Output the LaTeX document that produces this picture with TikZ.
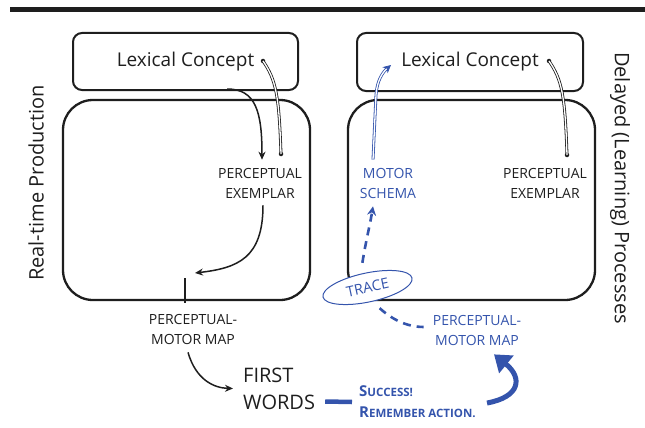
\documentclass[tikz,border=0pt]{standalone}
\usepackage{fontspec}
\setmainfont{Open Sans}
\usetikzlibrary{arrows.meta,shapes.geometric}
\definecolor{ink}{HTML}{1E1E1E}
\definecolor{bl}{RGB}{52,84,172}
\begin{document}
\begin{tikzpicture}[x=1pt,y=1pt,
  box/.style={draw=ink, line width=2pt, rounded corners=9pt},
  bigbox/.style={draw=ink, line width=2.3pt, rounded corners=30pt},
  lbl/.style={text=ink, font=\fontsize{14}{20}\selectfont, align=center, inner sep=0pt},
  blbl/.style={lbl, text=bl},
  dotn/.style={circle, fill=ink, inner sep=0pt, minimum size=4.5pt},
  dbl/.style={draw=ink, line width=0.8pt, double=white, double distance=1.3pt},
  bdbl/.style={draw=bl, line width=0.8pt, double=white, double distance=1.3pt},
  arr/.style={draw=ink, line width=1.5pt, -{Stealth[length=8pt,width=7pt]}},
  barr/.style={draw=bl, line width=2.6pt, dash pattern=on 8pt off 6pt, -{Stealth[length=9pt,width=9pt]}},
  side/.style={text=ink, font=\fontsize{20}{24}\selectfont, inner sep=0pt},
]
\useasboundingbox (0,0) rectangle (645,-428);
\fill[ink] (10,-7) rectangle (645,-12);

% boxes
\node[box, minimum width=225pt, minimum height=57pt, font=\fontsize{19}{22}\selectfont, text=ink] (lcL) at (185.5,-61.5) {Lexical Concept};
\node[box, minimum width=226pt, minimum height=58pt, font=\fontsize{19}{22}\selectfont, text=ink] (lcR) at (470,-62) {Lexical Concept};
\node[bigbox, minimum width=247pt, minimum height=200pt] (bigL) at (186.5,-200) {};
\node[bigbox, minimum width=247pt, minimum height=200pt] (bigR) at (471.5,-200) {};

% side labels
\node[side, rotate=90] (rtp) at (36,-183) {Real-time Production};
\node[side, rotate=-90] (dlp) at (620,-188) {Delayed (Learning) Processes};

% text nodes
\node[lbl] (peL) at (260,-183) {PERCEPTUAL\\EXEMPLAR};
\node[lbl] (pmL) at (193,-329) {PERCEPTUAL-\\MOTOR MAP};
\node[lbl, align=left, anchor=west, font=\fontsize{20}{27}\selectfont] (fw) at (243,-388.5) {FIRST\\WORDS};
\node[lbl, align=left, anchor=west, text=bl, font=\bfseries\fontsize{15}{21}\selectfont] (succ) at (359,-402)
  {S{\fontsize{11.5}{21}\selectfont UCCESS!}\\R{\fontsize{11.5}{21}\selectfont EMEMBER ACTION.}};
\node[blbl] (pmR) at (477,-330) {PERCEPTUAL-\\MOTOR MAP};
\node[blbl] (msR) at (388,-183) {MOTOR\\SCHEMA};
\node[lbl] (peR) at (545,-183) {PERCEPTUAL\\EXEMPLAR};
\node[ellipse, draw=bl, fill=white, line width=1pt, rotate=12, minimum width=91pt, minimum height=29pt, inner sep=0pt,
  text=bl, font=\fontsize{14.5}{16}\selectfont] (trace) at (367.5,-287.5) {TRACE};

% dots
\node[dotn] (dL1) at (263,-61) {};
\node[dotn] (dL2) at (281,-154) {};
\node[dotn] (dR1) at (549,-61) {};
\node[dotn] (dR2) at (567,-155) {};

% double lines
\draw[dbl] (dL1.center) .. controls (276,-80) and (279,-95) .. (dL2.center);
\draw[dbl] (dR1.center) .. controls (562,-80) and (565,-95) .. (dR2.center);

% left flow
\coordinate (a1s) at (227,-89);
\draw[arr] (a1s) .. controls (256,-89) and (262,-112) .. ([shift={(2,8)}]peL.north);
\coordinate (a2e) at (195,-273);
\draw[arr] ([shift={(3,-7)}]peL.south) .. controls (263,-258) and (238,-268) .. (a2e);
\coordinate (tickT) at (185,-278);
\coordinate (tickB) at (185,-303);
\draw[ink, line width=1.4pt] (tickT) -- (tickB);
\draw[arr] ([shift={(-5,-8)}]pmL.south) .. controls (196,-380) and (214,-388) .. ([xshift=-10pt]fw.west);

% blue flow
\draw[bl, line width=4.5pt] ([shift={(10,-13)}]fw.east) -- ([shift={(-7,0)}]succ.west);
\coordinate (c1) at (487,-403);
\draw[bl, line width=5pt, -{Triangle[length=16pt,width=22pt]}] (c1) .. controls (520,-397) and (523,-378) .. ([shift={(17,-9)}]pmR.south);
\draw[bl, line width=2.6pt, dash pattern=on 8pt off 6pt] ([shift={(9,-6)}]trace.south) .. controls (395,-322) and (410,-327) .. ([shift={(-9,3)}]pmR.west);
\draw[barr] ([shift={(-2,10)}]trace.north) .. controls (366,-240) and (370,-225) .. ([shift={(-15,-8)}]msR.south);
\draw[bdbl, -{Stealth[length=8pt,width=8pt]}] ([shift={(-15,8)}]msR.north) -- (376,-95) .. controls (377,-80) and (383,-72) .. ([shift={(35,-3)}]lcR.west);
\end{tikzpicture}
\end{document}
